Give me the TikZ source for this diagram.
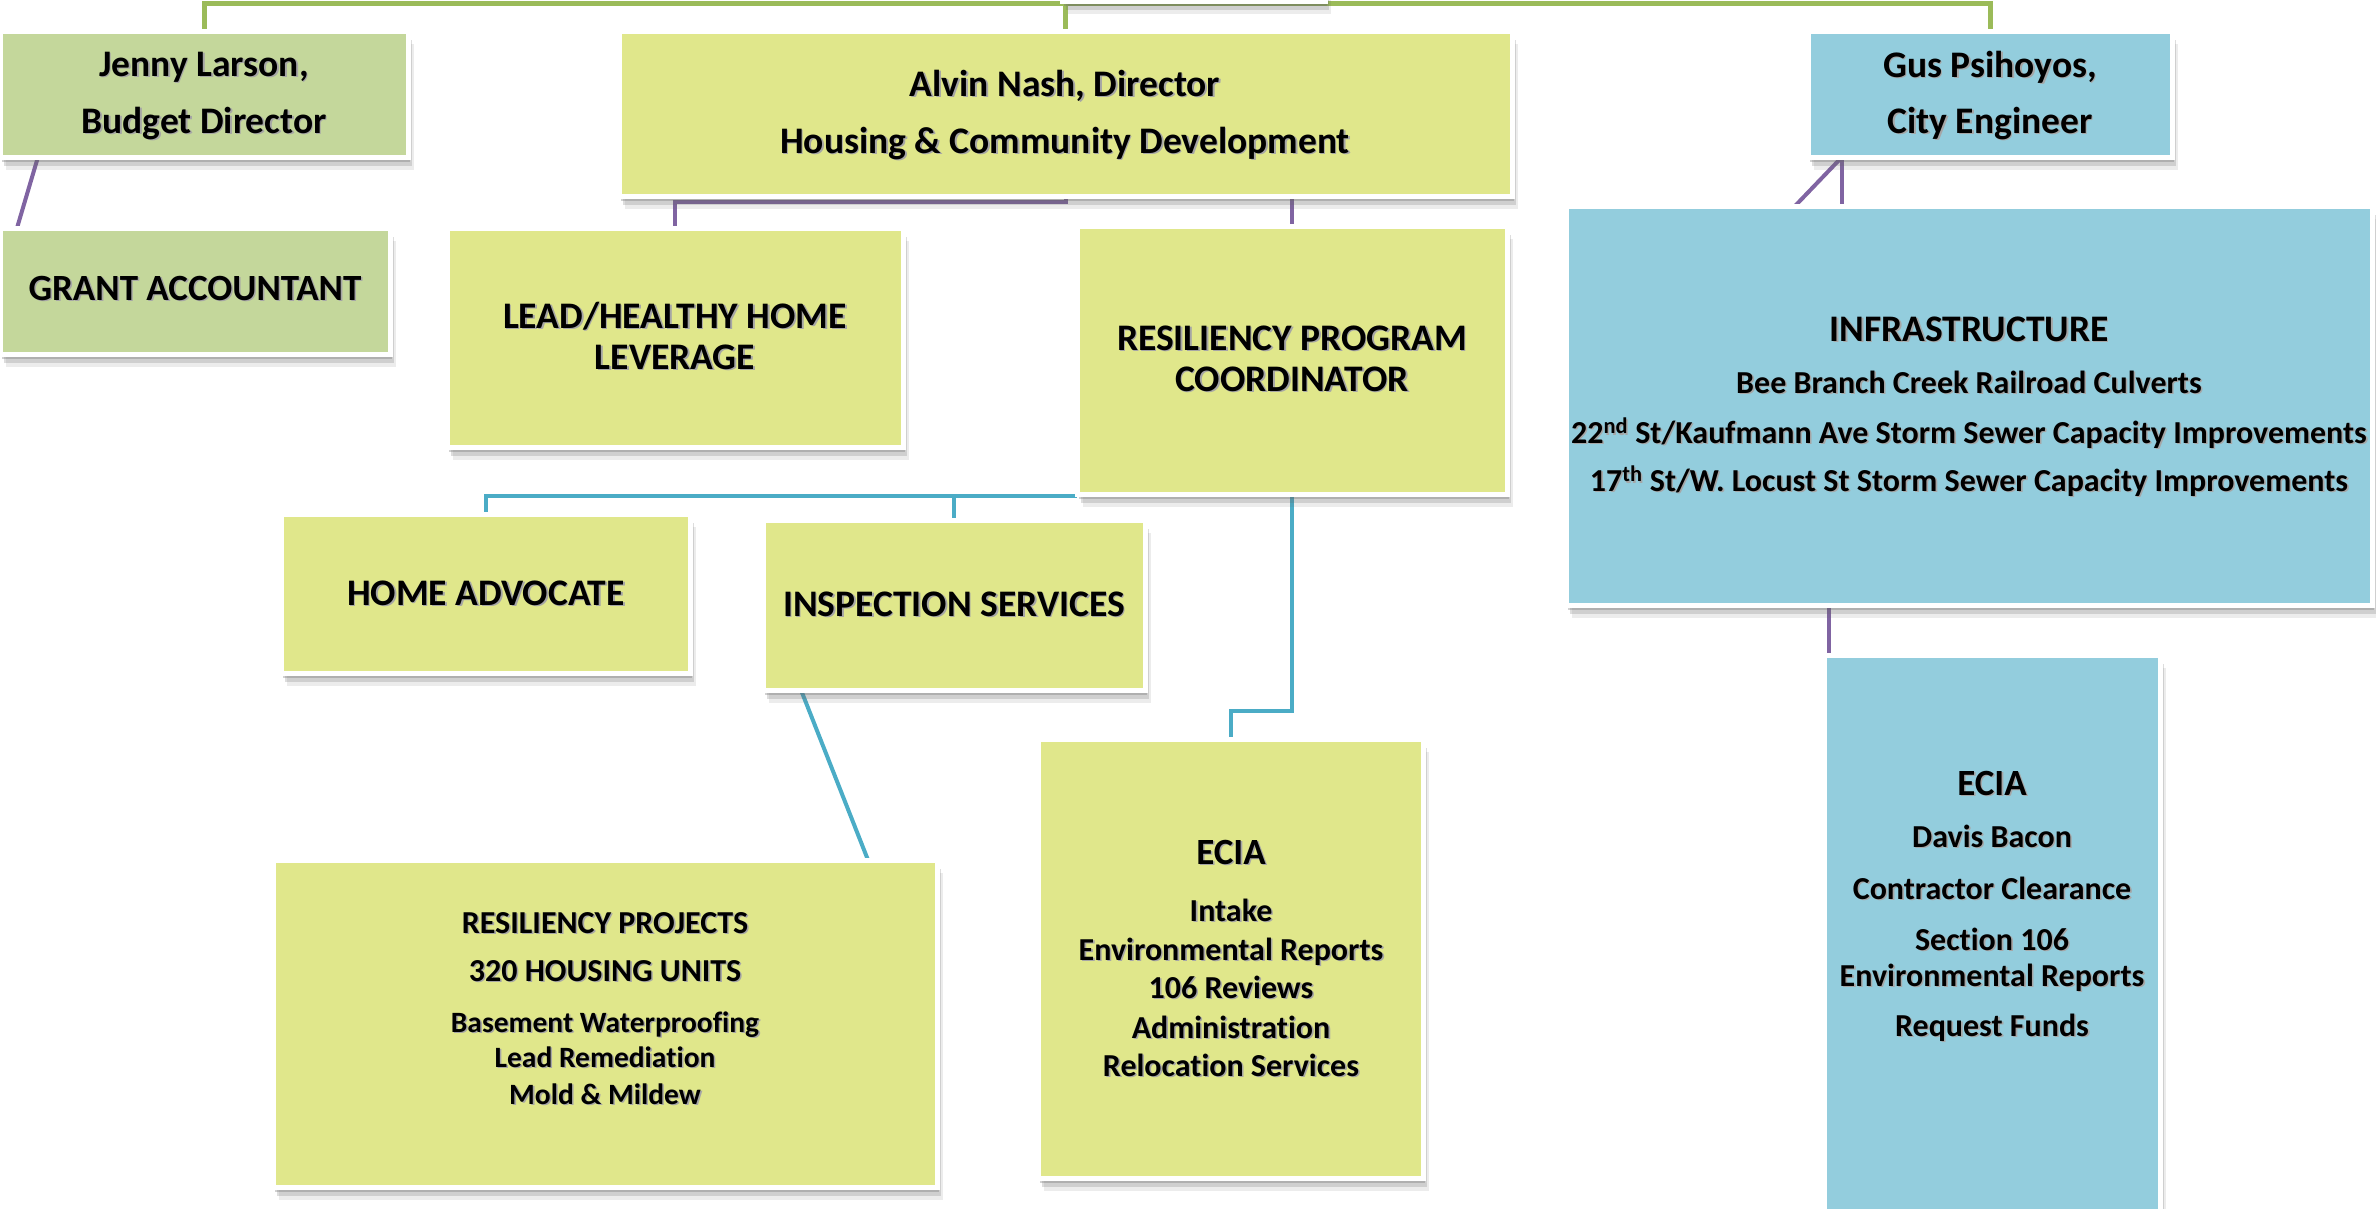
\documentclass[tikz,border=0pt]{standalone}
\usepackage{fontspec}
\setmainfont{Carlito}[RawFeature=-liga]
\usetikzlibrary{shadows}
\definecolor{gfill}{HTML}{C4D79B}
\definecolor{yfill}{HTML}{E0E78B}
\definecolor{bfill}{HTML}{93CDDD}
\definecolor{gline}{HTML}{9BBB59}
\definecolor{pline}{HTML}{8064A2}
\definecolor{bline}{HTML}{4BACC6}
\newcommand\ts[1]{\makebox[0pt][l]{\hspace*{1.6pt}\raisebox{-1.6pt}{\textcolor{black!35}{#1}}}#1}
\newcommand\fsz[1]{\fontsize{#1}{#1}\selectfont\bfseries}
\newcommand\obox[6]{\node[orgbox, fill=#6, minimum width={(#4)-(#2)}, minimum height={(#5)-(#3)}] (#1) at ({((#2)+(#4))/2},{((#3)+(#5))/2}) {};}
\pgfdeclarelayer{bg}
\pgfsetlayers{bg,main}
\begin{document}
\begin{tikzpicture}[x=1pt,y=-1pt,
  orgbox/.style={draw=white, line width=5pt, inner sep=0pt, outer sep=0pt,
    drop shadow={shadow xshift=6pt, shadow yshift=-13pt, opacity=.12, fill=black!60},
    drop shadow={shadow xshift=4pt, shadow yshift=-9pt, opacity=.22, fill=black!60},
    drop shadow={shadow xshift=2pt, shadow yshift=-5pt, opacity=.3, fill=black!60}},
  txt/.style={inner sep=0pt, anchor=base, text=black},
  gconn/.style={draw=gline, line width=5pt},
  pconn/.style={draw=pline, line width=4pt},
  bconn/.style={draw=bline, line width=4pt}]
\useasboundingbox (0,0) rectangle (2376,1208);
% boxes
\obox{root}{1062}{-60}{1325}{1}{white}
\obox{jenny}{0}{31}{408}{157}{gfill}
\obox{grant}{0}{228}{390}{354}{gfill}
\obox{alvin}{619}{31}{1512}{196}{yfill}
\obox{lead}{447}{228}{903}{447}{yfill}
\obox{rpc}{1077}{226}{1507}{494}{yfill}
\obox{home}{281}{514}{690}{673}{yfill}
\obox{insp}{763}{520}{1145}{690}{yfill}
\obox{resproj}{273}{860}{937}{1187}{yfill}
\obox{ecia1}{1038}{739}{1423}{1178}{yfill}
\obox{gus}{1808}{31}{2172}{157}{bfill}
\obox{infra}{1566}{206}{2372}{605}{bfill}
\obox{ecia2}{1824}{655}{2160}{1225}{bfill}
% connectors
\coordinate (gbus) at (0,3);
\coordinate (pbus) at (0,202);
\coordinate (hbus) at (0,496);
\coordinate (ebus) at (0,711);
\begin{pgfonlayer}{bg}
\draw[gconn] (jenny.north) -- (jenny.north |- gbus) -- (gus.north |- gbus) -- (gus.north);
\draw[gconn] (alvin.north) -- (alvin.north |- gbus);
\draw[pconn] ([xshift=38pt]jenny.south west) -- ([xshift=17pt]grant.north west);
\draw[pconn] (alvin.south) -- (alvin.south |- pbus) -| (lead.north);
\draw[pconn] (rpc.north) -- (rpc.north |- alvin.south);
\draw[pconn] ([xshift=34pt]gus.south west) -- ([xshift=229pt]infra.north west);
\draw[pconn] ([xshift=34pt]gus.south west) -- ([xshift=34pt]gus.south west |- infra.north);
\draw[pconn] ([xshift=5pt]ecia2.north west) -- ([xshift=5pt]ecia2.north west |- infra.south);
\draw[bconn] (rpc.west |- hbus) -| (home.north);
\draw[bconn] (insp.north) -- (insp.north |- hbus);
\draw[bconn] (rpc.south) -- (rpc.south |- ebus) -| (ecia1.north);
\draw[bconn] ([xshift=38pt]insp.south west) -- ([xshift=595pt]resproj.north west);
\end{pgfonlayer}
% texts
\node[txt, font=\fsz{37.5}] (jt1) at (204,76) {\ts{Jenny Larson,}};
\node[txt, font=\fsz{37.5}] (jt2) at (204,133) {\ts{Budget Director}};
\node[txt, font=\fsz{37}] (gat) at (195,300) {\ts{GRANT ACCOUNTANT}};
\node[txt, font=\fsz{37.5}] (at1) at (1065,96) {\ts{Alvin Nash, Director}};
\node[txt, font=\fsz{37.5}] (at2) at (1065,153) {\ts{Housing \& Community Development}};
\node[txt, font=\fsz{37.5}] (gt1) at (1990,77) {\ts{Gus Psihoyos,}};
\node[txt, font=\fsz{37.5}] (gt2) at (1990,133) {\ts{City Engineer}};
\node[txt, font=\fsz{37.5}] (lt1) at (675,328) {\ts{LEAD/HEALTHY HOME}};
\node[txt, font=\fsz{37.5}] (lt2) at (675,369) {\ts{LEVERAGE}};
\node[txt, font=\fsz{37.5}] (rt1) at (1292,350) {\ts{RESILIENCY PROGRAM}};
\node[txt, font=\fsz{37.5}] (rt2) at (1292,391) {\ts{COORDINATOR}};
\node[txt, font=\fsz{37.5}] (ht) at (486,605) {\ts{HOME ADVOCATE}};
\node[txt, font=\fsz{37.5}] (it) at (954,616) {\ts{INSPECTION SERVICES}};
\node[txt, font=\fsz{37.5}] (ft0) at (1969,341) {\ts{INFRASTRUCTURE}};
\node[txt, font=\fsz{32}] (ft1) at (1969,393) {\ts{Bee Branch Creek Railroad Culverts}};
\node[txt, font=\fsz{32}] (ft2) at (1969,443) {\ts{22\textsuperscript{nd} St/Kaufmann Ave Storm Sewer Capacity Improvements}};
\node[txt, font=\fsz{32}] (ft3) at (1969,491) {\ts{17\textsuperscript{th} St/W. Locust St Storm Sewer Capacity Improvements}};
\node[txt, font=\fsz{32}] (pt1) at (605,933) {\ts{RESILIENCY PROJECTS}};
\node[txt, font=\fsz{32}] (pt2) at (605,981) {\ts{320 HOUSING UNITS}};
\node[txt, font=\fsz{29.5}] (pt3) at (605,1032) {\ts{Basement Waterproofing}};
\node[txt, font=\fsz{29.5}] (pt4) at (605,1067) {\ts{Lead Remediation}};
\node[txt, font=\fsz{29.5}] (pt5) at (605,1104) {\ts{Mold \& Mildew}};
\node[txt, font=\fsz{37}] (et0) at (1231,864) {\ts{ECIA}};
\node[txt, font=\fsz{32}] (et1) at (1231,921) {\ts{Intake}};
\node[txt, font=\fsz{32}] (et2) at (1231,960) {\ts{Environmental Reports}};
\node[txt, font=\fsz{32}] (et3) at (1231,998) {\ts{106 Reviews}};
\node[txt, font=\fsz{32}] (et4) at (1231,1038) {\ts{Administration}};
\node[txt, font=\fsz{32}] (et5) at (1231,1076) {\ts{Relocation Services}};
\node[txt, font=\fsz{37}] (ct0) at (1992,795) {\ts{ECIA}};
\node[txt, font=\fsz{32}] (ct1) at (1992,847) {\ts{Davis Bacon}};
\node[txt, font=\fsz{32}] (ct2) at (1992,899) {\ts{Contractor Clearance}};
\node[txt, font=\fsz{32}] (ct3) at (1992,950) {\ts{Section 106}};
\node[txt, font=\fsz{32}] (ct4) at (1992,986) {\ts{Environmental Reports}};
\node[txt, font=\fsz{32}] (ct5) at (1992,1036) {\ts{Request Funds}};
\end{tikzpicture}
\end{document}
